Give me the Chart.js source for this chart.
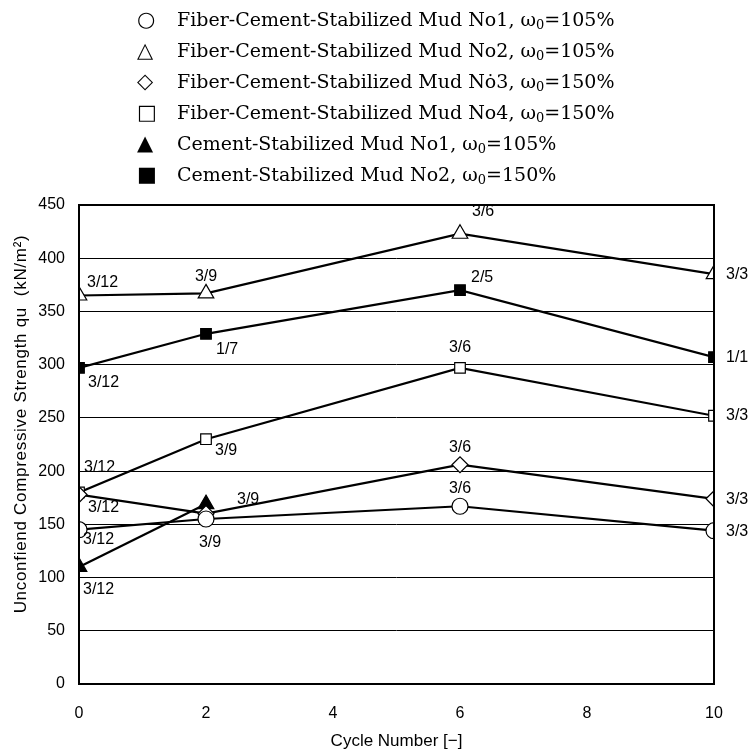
<!DOCTYPE html>
<html>
<head>
<meta charset="utf-8">
<script src="https://cdn.jsdelivr.net/npm/chart.js@4.4.1/dist/chart.umd.min.js"></script>
<style>
  html, body { margin: 0; padding: 0; background: #fff; }
  #wrap { position: relative; width: 752px; height: 754px; }
  #chart { position: absolute; left: 0; top: 0; }
  #legend { position: absolute; left: 137px; top: 4px; font-family: "DejaVu Serif", serif; font-size: 19px; color: #000; }
  #legend .row { height: 31px; line-height: 31px; white-space: nowrap; }
  #legend .mk { display: inline-block; width: 40px; font-family: "DejaVu Sans", sans-serif; font-size: 21px; }
  #legend sub { font-size: 13px; vertical-align: -3px; }
</style>
</head>
<body>
<div id="wrap">
  <canvas id="chart" width="752" height="754"></canvas>
  <div id="legend"></div>
</div>
<script>
// ===== Data =====
const cycles = [0, 2, 6, 10];

const fiberNo1 = [145, 155, 167, 144];
const fiberNo2 = [365, 367, 423, 385];
const fiberNo3 = [178, 160, 206, 174];
const fiberNo4 = [180, 230, 297, 252];
const cementNo1 = [110, 169];          // cycles 0 and 2 only
const cementNo2 = [297, 329, 370, 307];

// sample counts written next to each point
const fiberNo1Counts = ['3/12', '3/9', '3/6', '3/3'];
const fiberNo2Counts = ['3/12', '3/9', '3/6', '3/3'];
const fiberNo3Counts = ['3/12', '3/9', '3/6', '3/3'];
const fiberNo4Counts = ['3/12', '3/9', '3/6', '3/3'];
const cementNo1Counts = ['3/12', ''];
const cementNo2Counts = ['3/12', '1/7', '2/5', '1/1'];

const yTicks = [0, 50, 100, 150, 200, 250, 300, 350, 400, 450];
const xTicks = [0, 2, 4, 6, 8, 10];

const seriesNames = [
  'Fiber-Cement-Stabilized Mud No1, ω<sub>0</sub>=105%',
  'Fiber-Cement-Stabilized Mud No2, ω<sub>0</sub>=105%',
  'Fiber-Cement-Stabilized Mud Nȯ3, ω<sub>0</sub>=150%',
  'Fiber-Cement-Stabilized Mud No4, ω<sub>0</sub>=150%',
  'Cement-Stabilized Mud No1, ω<sub>0</sub>=105%',
  'Cement-Stabilized Mud No2, ω<sub>0</sub>=150%'
];
const legendGlyphs = ['○', '△', '◇', '□', '▲', '■'];
const yTitle = 'Unconfiend Compressive Strength qu  (kN/m²)';

// label placement: [dx, dy, align] per point
const fiberNo1Pos = [[4, 10, 'left'], [4, 24, 'center'], [0, -18, 'center'], [12, 1, 'left']];
const fiberNo2Pos = [[8, -13, 'left'], [0, -17, 'center'], [12, -22, 'left'], [12, 0, 'left']];
const fiberNo3Pos = [[9, 13, 'left'], [31, -14, 'left'], [0, -17, 'center'], [12, 1, 'left']];
const fiberNo4Pos = [[5, -25, 'left'], [9, 11, 'left'], [0, -20, 'center'], [12, 0, 'left']];
const cementNo1Pos = [[4, 23, 'left'], [0, 0, 'left']];
const cementNo2Pos = [[9, 15, 'left'], [10, 16, 'left'], [11, -13, 'left'], [12, 0, 'left']];

const toPoints = vals => vals.map((v, i) => ({ x: cycles[i], y: v }));

function series(values, counts, pos, style, fill, radius) {
  return {
    data: toPoints(values),
    counts, pos,
    borderColor: '#000',
    borderWidth: 2.2,
    pointStyle: style,
    pointRadius: radius,
    pointHoverRadius: radius,
    pointBorderWidth: 1.2,
    pointBorderColor: '#000',
    pointBackgroundColor: fill,
    backgroundColor: fill,
    tension: 0
  };
}

document.getElementById('legend').innerHTML = seriesNames.map((n, i) =>
  `<div class="row"><span class="mk">${legendGlyphs[i]}</span>${n}</div>`).join('');

// frame round the plot area + y title (sits a bit above centre in the original)
const framePlugin = {
  id: 'frame',
  afterDatasetsDraw(chart) {
    const { ctx, chartArea: a } = chart;
    ctx.save();
    ctx.strokeStyle = '#000';
    ctx.lineWidth = 2;
    ctx.strokeRect(a.left, a.top, a.right - a.left, a.bottom - a.top);
    ctx.translate(21, 424);
    ctx.rotate(-Math.PI / 2);
    ctx.font = '17px "Liberation Sans", Arial, sans-serif';
    ctx.letterSpacing = '0.7px';
    ctx.fillStyle = '#000';
    ctx.textAlign = 'center';
    ctx.textBaseline = 'middle';
    ctx.fillText(yTitle, 0, 0);
    ctx.restore();
  }
};

// count labels next to the points
const countPlugin = {
  id: 'counts',
  afterDatasetsDraw(chart) {
    const ctx = chart.ctx;
    ctx.save();
    ctx.font = '16px "Liberation Sans", Arial, sans-serif';
    ctx.fillStyle = '#000';
    ctx.textBaseline = 'middle';
    chart.data.datasets.forEach((ds, di) => {
      const meta = chart.getDatasetMeta(di);
      meta.data.forEach((pt, i) => {
        const txt = ds.counts[i];
        if (!txt) return;
        const [dx, dy, align] = ds.pos[i];
        ctx.textAlign = align;
        ctx.fillText(txt, pt.x + dx, pt.y + dy);
      });
    });
    ctx.restore();
  }
};

new Chart(document.getElementById('chart'), {
  type: 'line',
  data: {
    datasets: [
      series(fiberNo1, fiberNo1Counts, fiberNo1Pos, 'circle', '#fff', 8),
      series(fiberNo2, fiberNo2Counts, fiberNo2Pos, 'triangle', '#fff', 9),
      series(fiberNo3, fiberNo3Counts, fiberNo3Pos, 'rectRot', '#fff', 8),
      series(fiberNo4, fiberNo4Counts, fiberNo4Pos, 'rect', '#fff', 7.5),
      series(cementNo1, cementNo1Counts, cementNo1Pos, 'triangle', '#000', 9),
      series(cementNo2, cementNo2Counts, cementNo2Pos, 'rect', '#000', 7.5)
    ]
  },
  options: {
    responsive: false,
    animation: false,
    events: [],
    layout: { padding: { left: 0, top: 205, right: 38, bottom: 0 } },
    plugins: { legend: { display: false }, tooltip: { enabled: false } },
    scales: {
      x: {
        type: 'linear', min: 0, max: 10,
        afterBuildTicks: s => { s.ticks = xTicks.map(v => ({ value: v })); },
        afterFit: s => { s.height = 70; },
        grid: { display: false, drawTicks: false },
        border: { display: false },
        ticks: { padding: 20, color: '#000', font: { family: 'Liberation Sans', size: 16 } },
        title: {
          display: true, text: 'Cycle Number [−]', color: '#000',
          font: { family: 'Liberation Sans', size: 17 }, padding: { top: 0, bottom: 2 }
        }
      },
      y: {
        min: 0, max: 450,
        afterBuildTicks: s => { s.ticks = yTicks.map(v => ({ value: v })); },
        afterFit: s => { s.width = 79; },
        grid: { color: '#000', lineWidth: 1, drawTicks: false },
        border: { display: false },
        ticks: { padding: 14, color: '#000', font: { family: 'Liberation Sans', size: 16 } },
        title: { display: false }
      }
    }
  },
  plugins: [framePlugin, countPlugin]
});
</script>
</body>
</html>
